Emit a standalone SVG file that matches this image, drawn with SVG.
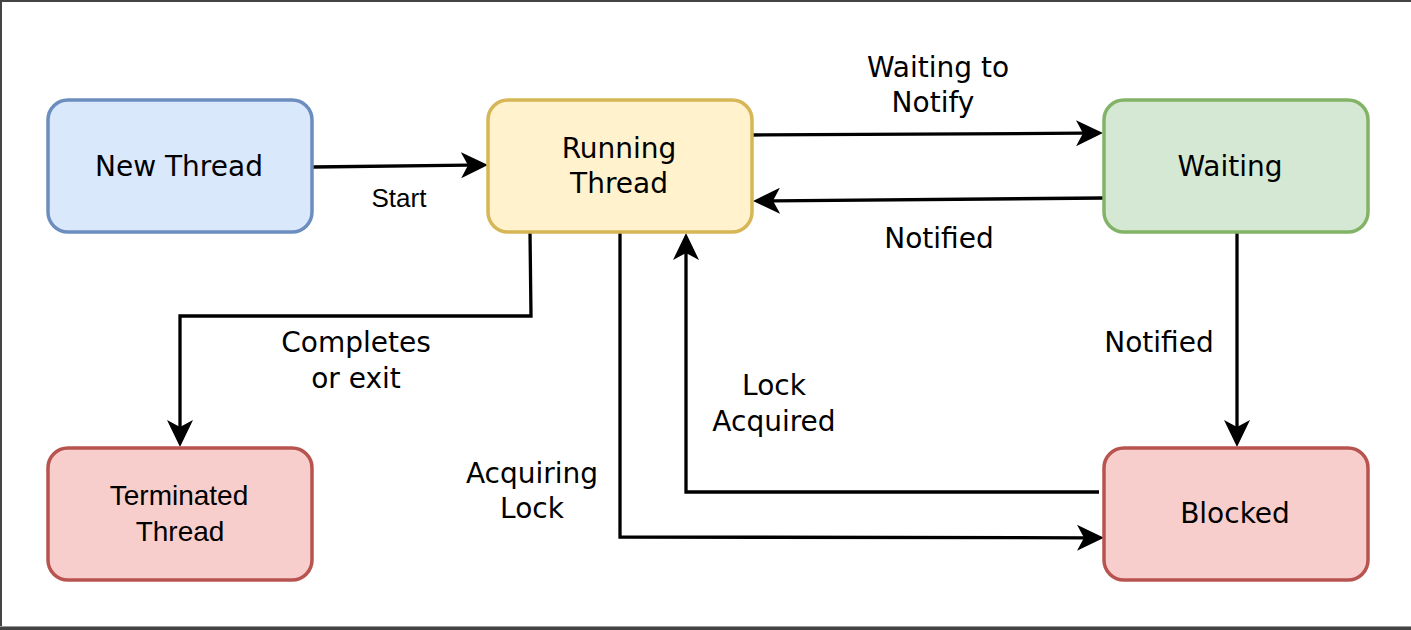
<svg xmlns="http://www.w3.org/2000/svg" width="1411" height="630" viewBox="0 0 1411 630">
<style>
.node rect{stroke-width:3.5}
.lbl{font-family:"DejaVu Sans",Verdana,sans-serif;font-size:28px;fill:#000;text-anchor:middle}
.ar{font-family:"Liberation Sans",Arial,sans-serif;fill:#000;text-anchor:middle}
.edge{fill:none;stroke:#000;stroke-width:3.3;marker-end:url(#arr)}
</style>
<defs>
<marker id="arr" viewBox="0 0 27 26" refX="7" refY="13" markerWidth="27" markerHeight="26" markerUnits="userSpaceOnUse" orient="auto">
<path d="M27,13 L0,0 L7,13 L0,26 Z" fill="#000"/>
</marker>
</defs>
<rect x="0" y="0" width="1411" height="630" fill="#fff"/>
<g id="frame">
<rect x="0" y="0" width="1411" height="2" fill="#444"/>
<rect x="0" y="0" width="2" height="630" fill="#444"/>
<rect x="0" y="626" width="1411" height="1" fill="#999"/>
<rect x="0" y="627" width="1411" height="3" fill="#444"/>
</g>
<g id="connectors">
<path class="edge" d="M313,167 L468,165.2"/>
<path class="edge" d="M752,135 L1083,133.2"/>
<path class="edge" d="M1104,198 L773,200.8"/>
<path class="edge" d="M530,232 L531,316 L180,316 L180,427"/>
<path class="edge" d="M620,232 L620,537 L1084,537.8"/>
<path class="edge" d="M1099,492 L686,492 L686,253"/>
<path class="edge" d="M1237,232 L1237,427"/>
</g>
<g id="labels">
<text class="ar" x="399" y="207" font-size="26">Start</text>
<text class="lbl" x="938" y="77">Waiting to</text>
<text class="lbl" x="933" y="112">Notify</text>
<text class="lbl" x="939" y="248">Notified</text>
<text class="lbl" x="356" y="352">Completes</text>
<text class="lbl" x="356" y="388">or exit</text>
<text class="lbl" x="532" y="483">Acquiring</text>
<text class="lbl" x="532" y="518">Lock</text>
<text class="lbl" x="774" y="395">Lock</text>
<text class="lbl" x="774" y="431">Acquired</text>
<text class="lbl" x="1159" y="352">Notified</text>
</g>
<g id="new-thread" class="node">
<rect x="48" y="100" width="264" height="132" rx="20" fill="#dae8fc" stroke="#6c8ebf"/>
<text class="lbl" x="179" y="176">New Thread</text>
</g>
<g id="running-thread" class="node">
<rect x="488" y="100" width="264" height="132" rx="20" fill="#fff2cc" stroke="#d6b656"/>
<text class="lbl" x="619" y="158">Running</text>
<text class="lbl" x="619" y="193">Thread</text>
</g>
<g id="waiting" class="node">
<rect x="1104" y="100" width="264" height="132" rx="20" fill="#d5e8d4" stroke="#82b366"/>
<text class="lbl" x="1230" y="176">Waiting</text>
</g>
<g id="terminated-thread" class="node">
<rect x="48" y="448" width="264" height="132" rx="20" fill="#f8cecc" stroke="#b85450"/>
<text class="ar" x="179" y="505" font-size="28">Terminated</text>
<text class="ar" x="180" y="541" font-size="28">Thread</text>
</g>
<g id="blocked" class="node">
<rect x="1104" y="448" width="264" height="132" rx="20" fill="#f8cecc" stroke="#b85450"/>
<text class="lbl" x="1235" y="523">Blocked</text>
</g>
</svg>
